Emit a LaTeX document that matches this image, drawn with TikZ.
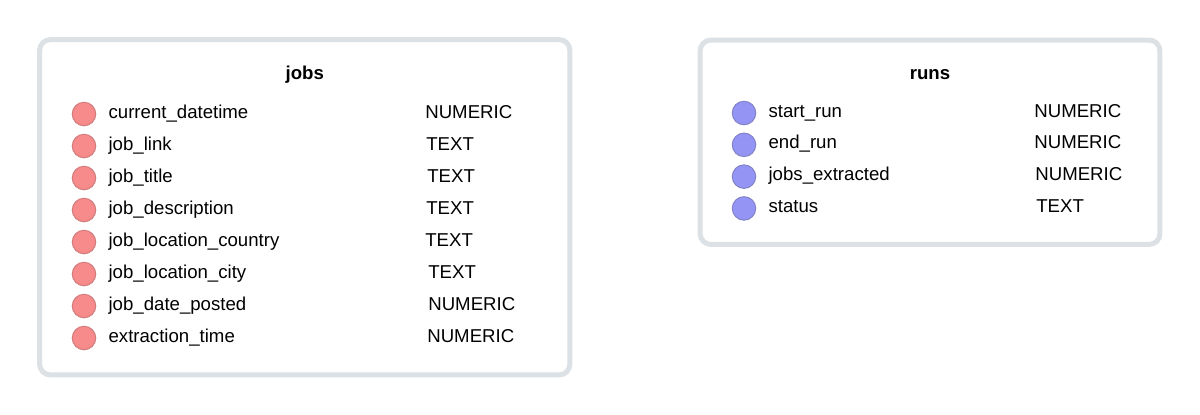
\documentclass[tikz,border=0pt]{standalone}
\usepackage{fontspec}
\setmainfont{Liberation Sans}
\usepackage{tikz}
\usetikzlibrary{positioning}
\definecolor{tblline}{HTML}{DCE1E6}
\definecolor{jobsfill}{HTML}{F78A8A}
\definecolor{jobsline}{HTML}{D07C7C}
\definecolor{runsfill}{HTML}{9494F5}
\definecolor{runsline}{HTML}{8282C8}

\begin{document}
\begin{tikzpicture}
  [
    x=0.02cm, y=-0.02cm,
    tbl/.style={draw=tblline, line width=0.1cm, rounded corners=0.22cm,
      inner sep=0, fill=white},
    fld/.style={font=\fontsize{10.6}{12}\selectfont, inner sep=0,
      text height=7.6pt, text depth=0pt, yshift=0.05cm},
    title/.style={fld, font=\fontsize{10.6}{12}\selectfont\bfseries},
    typ/.style={fld, anchor=west},
    jdot/.style={circle, draw=jobsline, fill=jobsfill, line width=0.02cm,
      minimum size=0.47cm, inner sep=0},
    rdot/.style={circle, draw=runsline, fill=runsfill, line width=0.02cm,
      minimum size=0.47cm, inner sep=0}
  ]
  \useasboundingbox (0,0) rectangle (1200,414);

  \node (jobs) at (304.75,207.25) [tbl, minimum width=10.61cm, minimum height=6.71cm] {};
  \node (runs) at (930,142.25)    [tbl, minimum width=9.2cm, minimum height=4.09cm] {};

  \node (jobsTitle) at (304.75,75) [title] {jobs};
  \node (runsTitle) at (930,75)    [title] {runs};

  \node (j1) at (84,114) [jdot] {};
  \node (j2) at (84,146) [jdot] {};
  \node (j3) at (84,178) [jdot] {};
  \node (j4) at (84,210) [jdot] {};
  \node (j5) at (84,242) [jdot] {};
  \node (j6) at (84,274) [jdot] {};
  \node (j7) at (84,306) [jdot] {};
  \node (j8) at (84,338) [jdot] {};

  \node (jn1) [fld, right=0.24cm of j1] {current\_datetime};
  \node (jn2) [fld, right=0.24cm of j2] {job\_link};
  \node (jn3) [fld, right=0.24cm of j3] {job\_title};
  \node (jn4) [fld, right=0.24cm of j4] {job\_description};
  \node (jn5) [fld, right=0.24cm of j5] {job\_location\_country};
  \node (jn6) [fld, right=0.24cm of j6] {job\_location\_city};
  \node (jn7) [fld, right=0.24cm of j7] {job\_date\_posted};
  \node (jn8) [fld, right=0.24cm of j8] {extraction\_time};

  \node (jt1) at (425,114) [typ] {NUMERIC};
  \node (jt2) at (426,146) [typ] {TEXT};
  \node (jt3) at (427,178) [typ] {TEXT};
  \node (jt4) at (426,210) [typ] {TEXT};
  \node (jt5) at (425,242) [typ] {TEXT};
  \node (jt6) at (428,274) [typ] {TEXT};
  \node (jt7) at (428,306) [typ] {NUMERIC};
  \node (jt8) at (427,338) [typ] {NUMERIC};

  \node (r1) at (744,113)   [rdot] {};
  \node (r2) at (744,144.8) [rdot] {};
  \node (r3) at (744,176.6) [rdot] {};
  \node (r4) at (744,208.4) [rdot] {};

  \node (rn1) [fld, right=0.24cm of r1] {start\_run};
  \node (rn2) [fld, right=0.24cm of r2] {end\_run};
  \node (rn3) [fld, right=0.24cm of r3] {jobs\_extracted};
  \node (rn4) [fld, right=0.24cm of r4] {status};

  \node (rt1) at (1034,113)   [typ] {NUMERIC};
  \node (rt2) at (1034,144.8) [typ] {NUMERIC};
  \node (rt3) at (1035,176.6) [typ] {NUMERIC};
  \node (rt4) at (1036,208.4) [typ] {TEXT};
\end{tikzpicture}
\end{document}
